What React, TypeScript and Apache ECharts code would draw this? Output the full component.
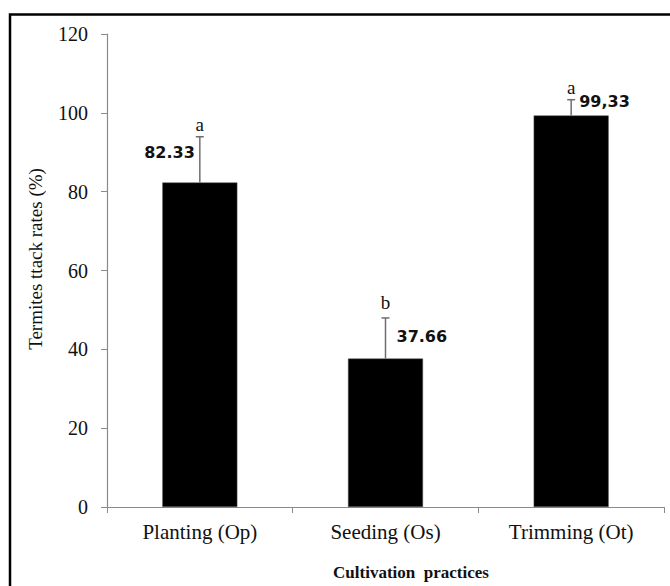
import React, { useEffect, useRef } from "react";
import * as echarts from "echarts";

const categories = ["Planting (Op)", "Seeding (Os)", "Trimming (Ot)"];
const attackRates = [82.33, 37.66, 99.33];
const errorUpper = [11.6, 10.3, 4.0];
const valueLabels = ["82.33", "37.66", "99,33"];
const groupLetters = ["a", "b", "a"];
const yMin = 0;
const yMax = 120;
const yInterval = 20;
const xTitle = "Cultivation  practices";
const yTitle = "Termites ttack rates (%)";

// label placement (styling, relative to error bar top)
const valueLabelLayout = [
  { dx: -5, dy: 16, align: "right" },
  { dx: 11, dy: 19, align: "left" },
  { dx: 8, dy: 2, align: "left" },
];

export default function App() {
  const ref = useRef<HTMLDivElement>(null);
  useEffect(() => {
    if (!ref.current) return;
    const chart = echarts.init(ref.current, null, { renderer: "svg" });
    const errData = attackRates.map((v, i) => [i, v, errorUpper[i]]);
    chart.setOption({
      animation: false,
      backgroundColor: "#ffffff",
      grid: { left: 107, right: 6, top: 34, bottom: 79, containLabel: false },
      xAxis: {
        type: "category",
        data: categories,
        boundaryGap: true,
        axisLine: { lineStyle: { color: "#8a8a8a", width: 1.2 } },
        axisTick: { show: true, length: 6, alignWithLabel: false, lineStyle: { color: "#8a8a8a" } },
        axisLabel: {
          color: "#111",
          fontFamily: "Liberation Serif",
          fontSize: 21,
          margin: 14,
        },
      },
      yAxis: {
        type: "value",
        min: yMin,
        max: yMax,
        interval: yInterval,
        splitLine: { show: false },
        axisLine: { show: true, lineStyle: { color: "#8a8a8a", width: 1.2 } },
        axisTick: { show: true, length: 6, lineStyle: { color: "#8a8a8a" } },
        axisLabel: {
          color: "#111",
          fontFamily: "Liberation Serif",
          fontSize: 20,
          margin: 19,
        },
      },
      series: [
        {
          type: "bar",
          data: attackRates,
          barWidth: 75,
          itemStyle: { color: "#000", borderColor: "#555", borderWidth: 0.5 },
          z: 2,
        },
        {
          type: "custom",
          data: errData,
          encode: { x: 0, y: 1 },
          z: 5,
          renderItem: (params: any, api: any) => {
            const i = params.dataIndex;
            const x = api.value(0);
            const v = api.value(1);
            const e = api.value(2);
            const base = api.coord([x, v]);
            const top = api.coord([x, v + e]);
            const lay = valueLabelLayout[i];
            const letterGap = groupLetters[i] === "b" ? 6 : 3;
            return {
              type: "group",
              children: [
                {
                  type: "line",
                  shape: { x1: base[0], y1: base[1], x2: top[0], y2: top[1] },
                  style: { stroke: "#6e6e6e", lineWidth: 1.5 },
                },
                {
                  type: "line",
                  shape: { x1: top[0] - 4, y1: top[1], x2: top[0] + 4, y2: top[1] },
                  style: { stroke: "#6e6e6e", lineWidth: 1.5 },
                },
                {
                  type: "text",
                  x: top[0],
                  y: top[1] - letterGap,
                  style: {
                    text: groupLetters[i],
                    fill: "#111",
                    font: '19px "Liberation Serif"',
                    align: "center",
                    verticalAlign: "bottom",
                  },
                },
                {
                  type: "text",
                  x: top[0] + lay.dx,
                  y: top[1] + lay.dy,
                  style: {
                    text: valueLabels[i],
                    fill: "#111",
                    font: 'bold 16px "DejaVu Sans"',
                    align: lay.align,
                    verticalAlign: "middle",
                  },
                },
              ],
            };
          },
        },
      ],
      graphic: [
        {
          type: "rect",
          shape: { x: 10, y: 14.5, width: 700, height: 700 },
          style: { fill: "none", stroke: "#000", lineWidth: 2.5 },
          silent: true,
        },
        {
          type: "text",
          x: 411,
          y: 572,
          style: {
            text: xTitle,
            fill: "#111",
            font: 'bold 17px "Liberation Serif"',
            align: "center",
            verticalAlign: "middle",
          },
        },
        {
          type: "text",
          x: 35,
          y: 259,
          rotation: Math.PI / 2,
          style: {
            text: yTitle,
            fill: "#111",
            font: '19px "Liberation Serif"',
            align: "center",
            verticalAlign: "middle",
          },
        },
      ],
    });
    return () => chart.dispose();
  }, []);
  return (
    <div
      ref={ref}
      style={{ position: "absolute", left: 0, top: 0, width: 670, height: 586 }}
    />
  );
}
